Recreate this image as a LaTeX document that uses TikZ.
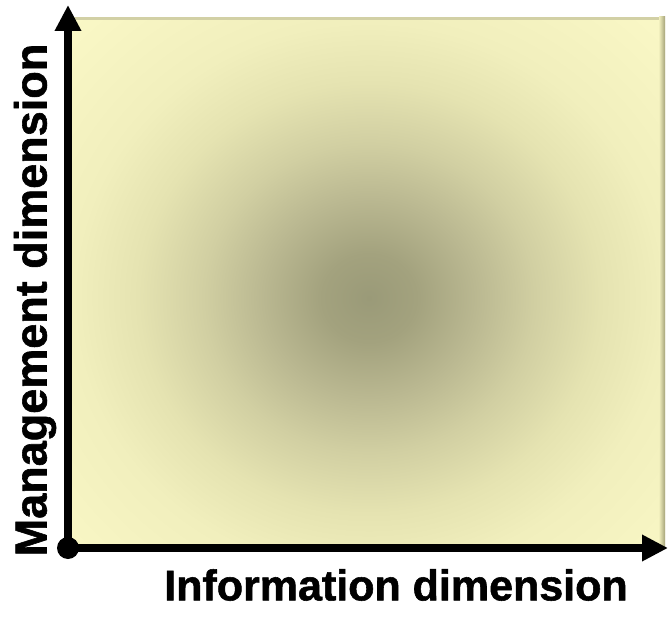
\documentclass[tikz,border=0pt]{standalone}
\usepackage{fontspec}
\setmainfont{Liberation Sans}[BoldFont={Liberation Sans Bold}, BoldFeatures={FakeBold=1.3}]
\usetikzlibrary{arrows.meta}
\definecolor{c0}{RGB}{154,154,120}
\definecolor{c1}{RGB}{163,162,126}
\definecolor{c2}{RGB}{186,184,145}
\definecolor{c3}{RGB}{209,207,162}
\definecolor{c4}{RGB}{229,227,177}
\definecolor{c5}{RGB}{241,239,189}
\definecolor{c6}{RGB}{250,248,198}
\definecolor{edgec}{RGB}{210,208,165}
\definecolor{shadowc}{RGB}{165,163,122}
\pgfdeclareradialshading{panel}{\pgfpointorigin}{color(0bp)=(c0); color(8bp)=(c1); color(18bp)=(c2); color(28bp)=(c3); color(39bp)=(c4); color(50bp)=(c5); color(71bp)=(c6)}
\tikzset{
  axisline/.style={line width=8pt, -{Triangle[length=26pt,width=25pt]}},
  axislabel/.style={text=black, inner sep=0pt},
}
\begin{document}
\begin{tikzpicture}[x=1pt,y=1pt]
\useasboundingbox (0,0) rectangle (668,621);
% panel
\begin{scope}
  \clip (72,73) rectangle (665,603);
  \begin{scope}[shift={(369,323)}, xscale=5.9, yscale=5.5]
    \node[inner sep=0pt, transform shape] (shade) at (0,0) {\pgfuseshading{panel}};
  \end{scope}
\end{scope}
\fill[edgec] (72,601) rectangle (665,604);
\shade[left color=c5, right color=shadowc] (659,73) rectangle (665,604);
% axes
\coordinate (o) at (68,73);
\coordinate (ytip) at (68,616);
\coordinate (xtip) at (668,73);
\draw[axisline] (o) -- (ytip);
\draw[axisline] (o) -- (xtip);
\node[circle, fill=black, minimum size=22pt, inner sep=0pt] (dot) at (o) {};
% labels
\node[axislabel, font=\fontsize{43}{50}\selectfont] (xl) at (396,36) {\textbf{Information dimension}};
\node[axislabel, rotate=90, font=\fontsize{45}{52}\selectfont] (yl) at (35,321) {\textbf{Management dimension}};
\end{tikzpicture}
\end{document}
